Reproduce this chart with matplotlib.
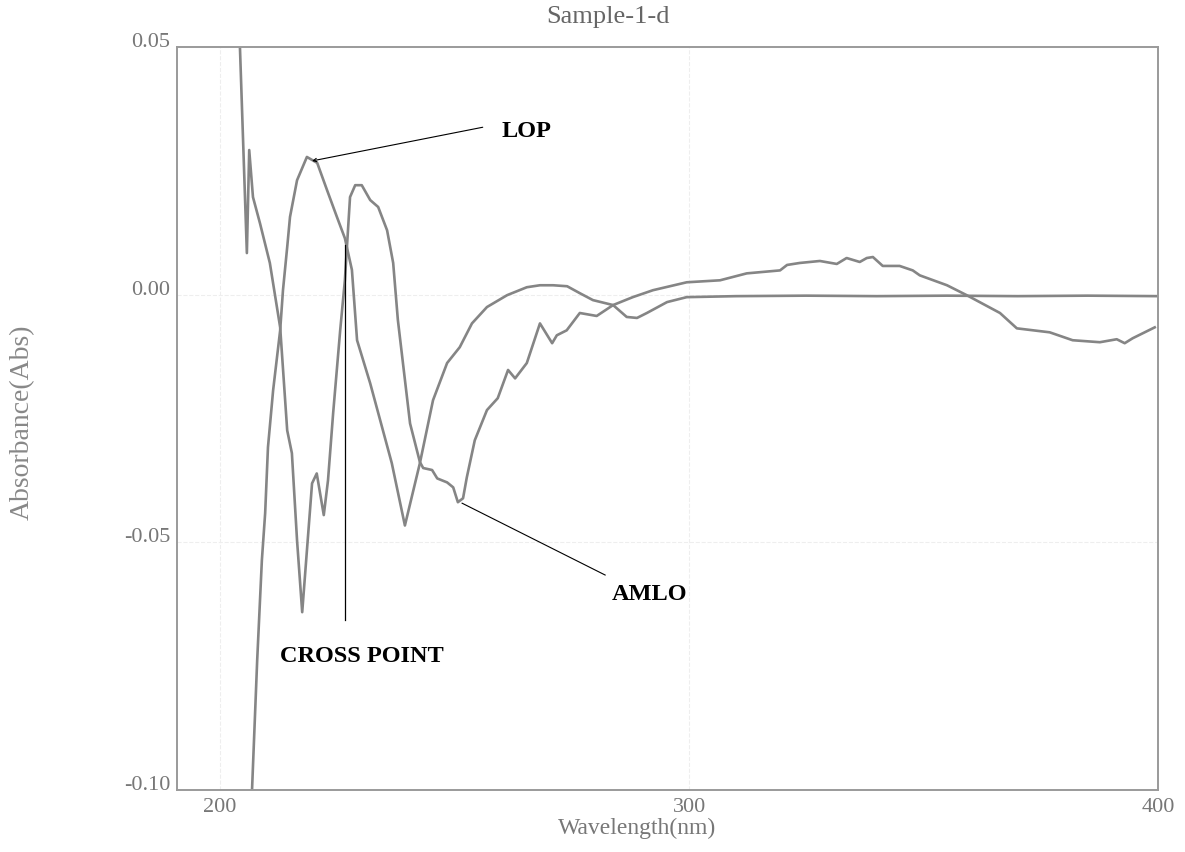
import matplotlib
matplotlib.use('Agg')
import matplotlib.pyplot as plt

# wavelength (nm) / absorbance
amlo_x = [204.1, 205.7, 206.2, 207.0, 208.5, 210.6, 212.8, 214.3, 215.3, 216.4,
          217.5, 219.6, 220.6, 222.1, 223.0, 224.1, 225.6, 226.6, 227.7, 228.8,
          230.2, 232.0, 233.7, 235.6, 236.9, 237.9, 240.5, 242.6, 243.3, 245.2,
          246.3, 248.4, 249.7, 250.7, 251.8, 252.6, 254.3, 256.9, 259.2, 261.4,
          262.9, 265.4, 268.2, 270.8, 271.8, 273.9, 276.7, 280.3, 283.8, 288.0,
          292.3, 299.5, 306.6, 312.3, 319.4, 320.9, 323.6, 327.9, 331.5, 333.6,
          336.4, 337.9, 339.2, 341.3, 344.9, 347.7, 349.2, 355.0, 359.2, 366.3,
          369.9, 376.9, 381.8, 387.6, 391.2, 392.9, 394.6, 399.3]
amlo_y = [0.0534, 0.0084, 0.0292, 0.0197, 0.0144, 0.0064, -0.0066, -0.0274, -0.0320, -0.0496,
          -0.0641, -0.0381, -0.0361, -0.0445, -0.0375, -0.0239, -0.0072, 0.0029, 0.0197, 0.0221,
          0.0221, 0.0191, 0.0177, 0.0130, 0.0064, -0.0051, -0.0260, -0.0338, -0.0350, -0.0354,
          -0.0371, -0.0379, -0.0389, -0.0419, -0.0411, -0.0369, -0.0294, -0.0233, -0.0209, -0.0152,
          -0.0169, -0.0138, -0.0058, -0.0098, -0.0082, -0.0072, -0.0037, -0.0043, -0.0021, -0.0005,
          0.0009, 0.0025, 0.0029, 0.0043, 0.0049, 0.0060, 0.0064, 0.0068, 0.0062, 0.0074,
          0.0066, 0.0074, 0.0076, 0.0058, 0.0058, 0.0049, 0.0039, 0.0019, -0.0001, -0.0037,
          -0.0068, -0.0076, -0.0092, -0.0096, -0.0090, -0.0098, -0.0088, -0.0066]

lop_x = [206.5, 206.8, 207.9, 208.9, 209.6, 210.2, 211.3, 212.8, 213.4, 214.3,
         214.9, 216.4, 218.5, 220.7, 222.8, 224.9, 226.6, 228.1, 229.2, 232.0,
         236.6, 239.4, 242.6, 245.4, 248.4, 251.1, 253.7, 256.9, 261.2, 265.4,
         268.2, 271.0, 274.0, 276.7, 279.5, 283.8, 286.7, 288.9, 291.0, 295.3,
         299.5, 310.0, 325.0, 340.0, 355.0, 370.0, 385.0, 400.0]
lop_y = [-0.1120, -0.1000, -0.0738, -0.0536, -0.0441, -0.0308, -0.0193, -0.0072, 0.0009, 0.0096,
         0.0157, 0.0231, 0.0278, 0.0266, 0.0211, 0.0157, 0.0114, 0.0050, -0.0092, -0.0179,
         -0.0340, -0.0466, -0.0340, -0.0213, -0.0138, -0.0106, -0.0058, -0.0025, -0.0001, 0.0015,
         0.0019, 0.0019, 0.0017, 0.0003, -0.0011, -0.0021, -0.0045, -0.0047, -0.0037, -0.0015,
         -0.0005, -0.0003, -0.0002, -0.0003, -0.0002, -0.0003, -0.0002, -0.0003]

xticks = [200, 300, 400]
yticks = [0.05, 0.00, -0.05, -0.10]

plt.rcParams['font.family'] = ['Liberation Serif', 'DejaVu Serif']

fig = plt.figure(figsize=(11.85, 8.52), dpi=100)
ax = fig.add_axes([177/1185, 1 - 790/852, 981/1185, 743/852])

ax.plot(amlo_x, amlo_y, color='#858585', lw=1.9)
ax.plot(lop_x, lop_y, color='#858585', lw=1.9)

ax.set_xlim(190.8, 400)
ax.set_ylim(-0.10, 0.05)
ax.set_xticks(xticks)
ax.set_xticklabels([str(v) for v in xticks])
ax.set_yticks(yticks)
ax.set_yticklabels(['%.2f' % v for v in yticks])
ax.tick_params(length=0, labelsize=16, labelcolor='#777777')
ax.tick_params(axis='x', pad=6)
ax.tick_params(axis='y', pad=5)
for lab in ax.get_yticklabels():
    lab.set_verticalalignment('baseline')

ax.grid(True, color='#eeeeee', lw=0.8, ls='--')
for s in ax.spines.values():
    s.set_color('#9a9a9a')
    s.set_linewidth(1.4)

ax.set_xlabel('Wavelength(nm)', fontsize=17, color='#777777')
ax.xaxis.set_label_coords(0.469, -0.038)
ax.set_ylabel('Absorbance(Abs)', fontsize=20, color='#888888')
ax.yaxis.set_label_coords(-0.145, 0.495)
fig.text(608/1185, 1 - 17/852, 'Sample-1-d', fontsize=19, color='#666666',
         ha='center', va='center')

# annotations
ax.annotate('', xy=(219.6, 0.0270), xytext=(256.0, 0.0338),
            arrowprops=dict(arrowstyle='->', color='black', lw=0.8,
                            shrinkA=0, shrinkB=0, mutation_scale=6))
ax.text(260.1, 0.0318, 'LOP', fontsize=17.5, fontweight='bold', color='black', va='baseline')

ax.plot([251.6, 282.1], [-0.0421, -0.0566], color='black', lw=0.8)
ax.text(283.5, -0.0617, 'AMLO', fontsize=17.5, fontweight='bold', color='black', va='baseline')

ax.plot([226.6, 226.6], [0.0100, -0.0657], color='black', lw=0.9)
ax.text(212.8, -0.0742, 'CROSS POINT', fontsize=17.5, fontweight='bold', color='black', va='baseline')

fig.savefig('out.png', dpi=100)
